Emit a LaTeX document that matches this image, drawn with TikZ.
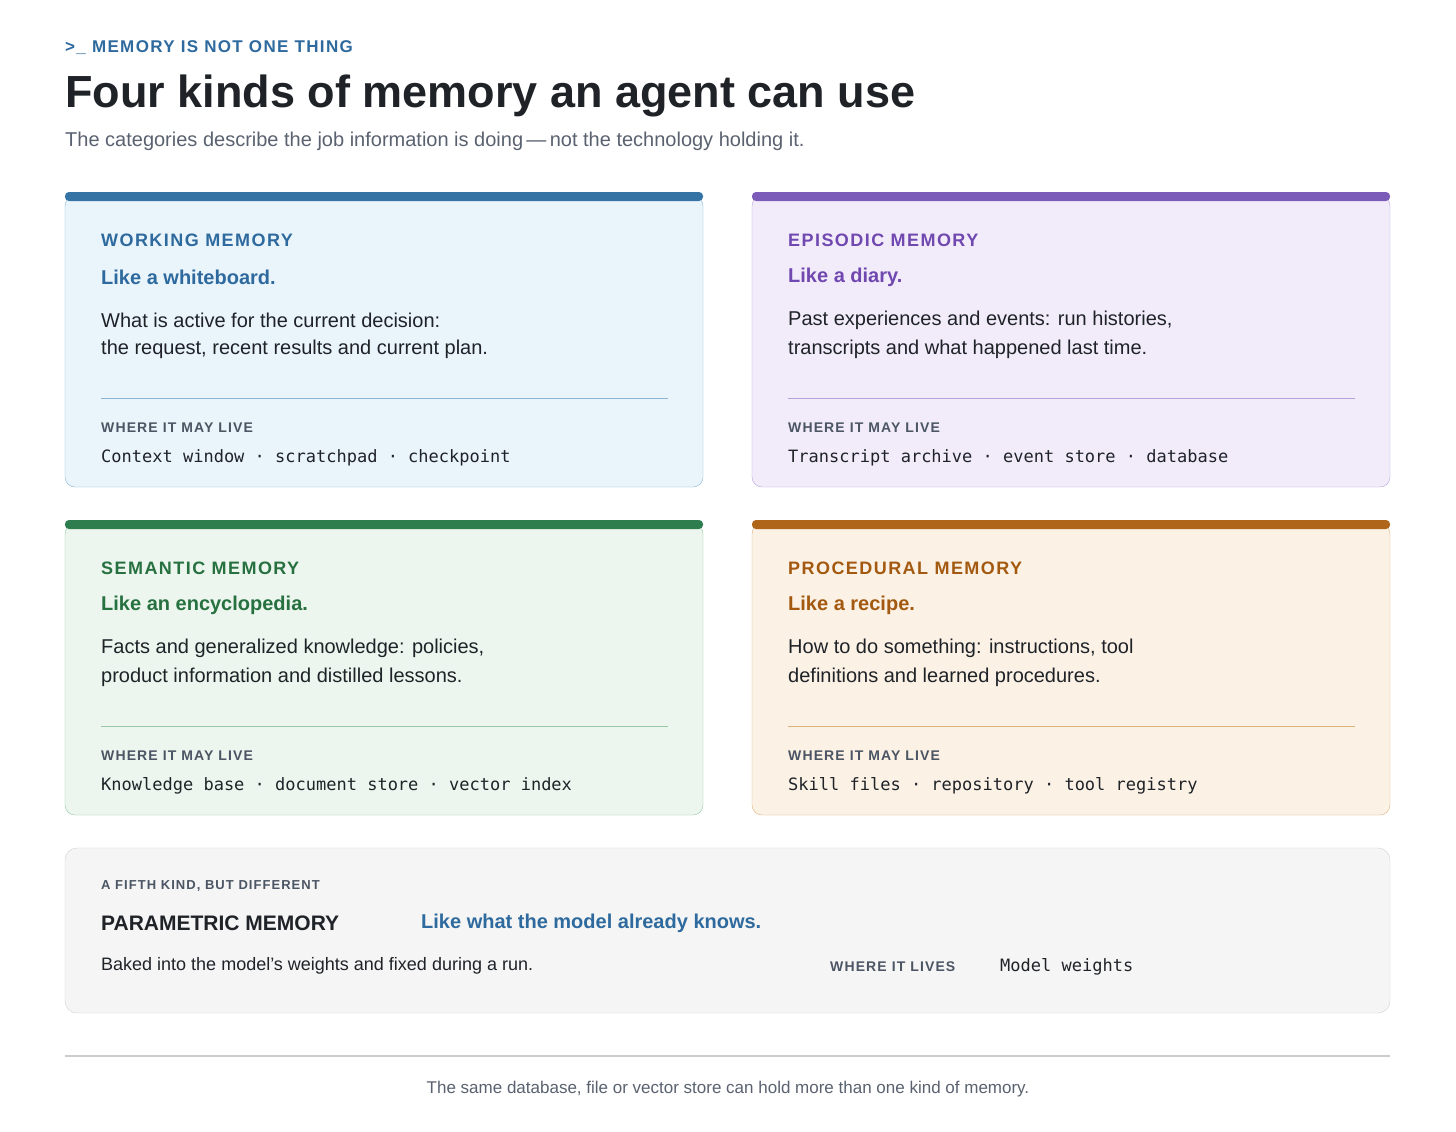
\documentclass[tikz,border=0pt]{standalone}
\usepackage{fontspec}
\setmainfont{Liberation Sans}
\newfontfamily\spaced[LetterSpace=8]{Liberation Sans}
\newfontfamily\codefont{DejaVu Sans Mono}
\usetikzlibrary{positioning}

\definecolor{inkA}{HTML}{1F2328}
\definecolor{inkB}{HTML}{5A6270}
\definecolor{inkC}{HTML}{4B5563}
\definecolor{blueBar}{HTML}{3573A5}\definecolor{blueTxt}{HTML}{2E6A9E}
\definecolor{blueFill}{HTML}{EAF4FB}\definecolor{blueLine}{HTML}{8DB4D3}
\definecolor{purpBar}{HTML}{7B5CB8}\definecolor{purpTxt}{HTML}{7048B0}
\definecolor{purpFill}{HTML}{F2ECFA}\definecolor{purpLine}{HTML}{B7A3DC}
\definecolor{grnBar}{HTML}{2E7D4F}\definecolor{grnTxt}{HTML}{277040}
\definecolor{grnFill}{HTML}{ECF6EE}\definecolor{grnLine}{HTML}{96C8A4}
\definecolor{orgBar}{HTML}{B0661A}\definecolor{orgTxt}{HTML}{A35A10}
\definecolor{orgFill}{HTML}{FBF1E5}\definecolor{orgLine}{HTML}{DDB27A}

\tikzset{
  txt/.style={anchor=west, inner sep=0pt, text=inkA, font=\fontsize{20}{24}\selectfont},
  kicker/.style={txt, font=\spaced\bfseries\fontsize{18}{22}\selectfont},
  small/.style={txt, text=inkC, font=\spaced\bfseries\fontsize{14}{17}\selectfont},
  code/.style={txt, font=\codefont\fontsize{17}{20}\selectfont},
}

\begin{document}
\begin{tikzpicture}[x=1pt, y=-1pt]
\useasboundingbox (0,0) rectangle (1456,1132);
\fill[white] (0,0) rectangle (1456,1132);

% heading
\node[kicker, text=blueTxt, font=\spaced\bfseries\fontsize{17}{20}\selectfont] (kick) at (65,48) {>\_ MEMORY IS NOT ONE THING};
\node[txt, font=\bfseries\fontsize{45}{52}\selectfont] (title) at (65,96) {Four kinds of memory an agent can use};
\node[txt, text=inkB] (sub) at (65,141) {The categories describe the job information is doing\,—\,not the technology holding it.};

% four cards
\foreach \k/\x/\y/\head/\tag/\la/\lb/\live in {
  blue/65/193/WORKING MEMORY/Like a whiteboard./{What is active for the current decision:}/{the request, recent results and current plan.}/{Context window · scratchpad · checkpoint},
  purp/752/193/EPISODIC MEMORY/Like a diary./{Past experiences and events: run histories,}/{transcripts and what happened last time.}/{Transcript archive · event store · database},
  grn/65/521/SEMANTIC MEMORY/Like an encyclopedia./{Facts and generalized knowledge: policies,}/{product information and distilled lessons.}/{Knowledge base · document store · vector index},
  org/752/521/PROCEDURAL MEMORY/Like a recipe./{How to do something: instructions, tool}/{definitions and learned procedures.}/{Skill files · repository · tool registry}}
{
  \draw[\k Line, fill=\k Fill, rounded corners=10] (\x,\y+3) rectangle ++(638,291);
  \fill[\k Bar, rounded corners=4] (\x,\y-1) rectangle ++(638,9);
  \node[kicker, text=\k Txt] (head-\k) at (\x+36,\y+47) {\head};
  \node[txt, text=\k Txt, font=\bfseries\fontsize{20}{24}\selectfont] (tag-\k) at (\x+36,\y+84) {\tag};
  \node[txt] (body-\k) at (\x+36,\y+127) {\la};
  \node[txt] (bodyb-\k) at (\x+36,\y+156) {\lb};
  \draw[\k Line] (\x+36,\y+205) -- ++(567,0);
  \node[small] (where-\k) at (\x+36,\y+235) {WHERE IT MAY LIVE};
  \node[code] (live-\k) at (\x+36,\y+265) {\live};
}

% fifth kind
\draw[draw=black!18, fill=black!4, rounded corners=12] (65,848) rectangle (1390,1013);
\node[small, font=\spaced\bfseries\fontsize{13}{16}\selectfont] (fifth) at (101,886) {A FIFTH KIND, BUT DIFFERENT};
\node[txt, font=\bfseries\fontsize{21}{25}\selectfont] (param) at (101,923) {PARAMETRIC MEMORY};
\node[txt, text=blueTxt, font=\bfseries\fontsize{20}{24}\selectfont] (ptag) at (421,923) {Like what the model already knows.};
\node[txt, font=\fontsize{18}{22}\selectfont] (pbody) at (101,966) {Baked into the model’s weights and fixed during a run.};
\node[small] (plives) at (830,967) {WHERE IT LIVES};
\node[code] (pweights) at (1000,967) {Model weights};

% footer
\draw[black!20, line width=1.2] (65,1056) -- (1390,1056);
\node[txt, anchor=center, text=inkB, font=\fontsize{17}{20}\selectfont] (foot) at (728,1089) {The same database, file or vector store can hold more than one kind of memory.};
\end{tikzpicture}
\end{document}
